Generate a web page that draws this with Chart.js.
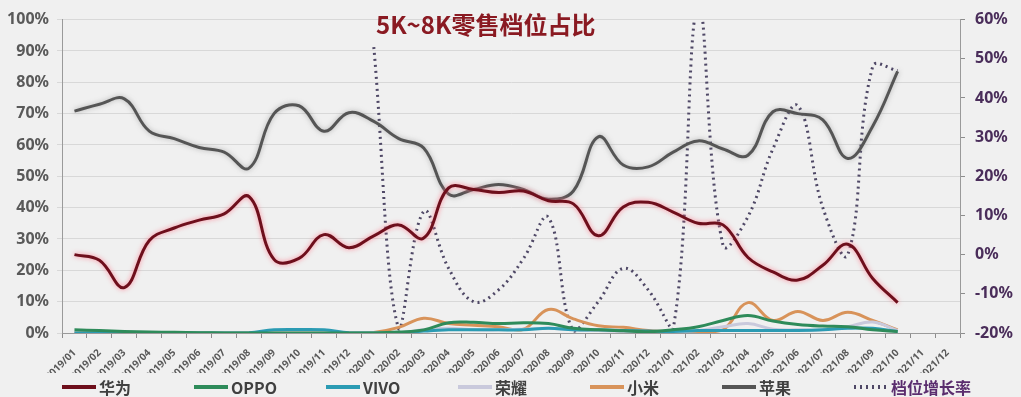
<!DOCTYPE html>
<html>
<head>
<meta charset="utf-8">
<script src="https://cdn.jsdelivr.net/npm/chart.js@4"></script>
<style>
  html,body{margin:0;padding:0;background:#f0f0f0;}
  #box{width:1021px;height:397px;position:relative;}
</style>
</head>
<body>
<div id="box"><canvas id="shareChart" width="1021" height="397"></canvas></div>
<script>
/* =========================
DATA
========================= */

const months = [
  "2019/01","2019/02","2019/03","2019/04","2019/05","2019/06",
  "2019/07","2019/08","2019/09","2019/10","2019/11","2019/12",
  "2020/01","2020/02","2020/03","2020/04","2020/05","2020/06",
  "2020/07","2020/08","2020/09","2020/10","2020/11","2020/12",
  "2021/01","2021/02","2021/03","2021/04","2021/05","2021/06",
  "2021/07","2021/08","2021/09","2021/10","2021/11","2021/12"
];

// 左轴 %
const huawei = [25,23.2,14.5,29.5,33.5,36,38,43.5,23.5,23.8,31.4,27.2,
  31,34.5,30.3,46.3,45.8,44.8,45.3,42.2,41.2,31,40.2,41.7,
  38.6,35,34.5,24.1,19.5,16.9,21.6,28.3,17.4,9.7,null,null];

const oppo = [1,0.8,0.5,0.3,0.2,0.1,0,0,0,0,0,0,
  0,0.3,1,3.3,3.4,3,3.3,3,1.5,1,0.7,0.4,
  1,2,4,5.6,3.8,2.7,2.2,2,1,0.5,null,null];

const vivo = [0,0,0,0,0,0,0,0.1,1,1.1,1,0.1,
  0,0,0.6,1,1,1,1,1.5,1,1,0.8,0.6,
  0.5,0.8,0.8,0.8,0.8,0.8,1,1.5,1.5,0.5,null,null];

const honor = [0,0,0,0,0,0,0,0,0,0,0,0,
  0,0,1,1.5,1,1,1.2,1.5,1,0.8,0.5,0.3,
  0.3,0.8,2,3,1.2,1,1,2,3.5,0.8,null,null];

const xiaomi = [0,0,0,0,0,0,0,0,0,0,0,0,
  0.2,1.8,4.7,3,2.5,2,1.2,7.5,4.5,2.3,1.8,0.8,
  0.4,0.4,1,9.7,4,6.9,4,6.6,4,1,null,null];

const apple = [70.8,73,74.7,64.4,62,59.2,57.7,52.6,70,72.5,64.4,70.3,
  67.5,62,59,44.3,45.8,47.4,45.8,42.7,45.3,62.6,53.6,53,
  57.7,61.3,58.7,56.7,70.6,70,68,55.7,66,83.5,null,null];

// 右轴 %
const growth = [null,null,null,null,null,null,null,null,null,null,null,null,
  53,-19,11,-3.5,-12,-9,-1,9.5,-19.5,-12,-3.5,-9,
  -19,64,2.4,9.7,27,38,12,0,48,47,null,null];

/* =========================
PLUGINS
========================= */

const bgPlugin = {
  id:"bg",
  beforeDraw(chart){
    const c = chart.ctx;
    c.save();
    c.fillStyle = "#f0f0f0";
    c.fillRect(0,0,chart.width,chart.height);
    c.restore();
  }
};

// 华为 / 苹果 线的光晕
const glowPlugin = {
  id:"glow",
  beforeDatasetDraw(chart,args){
    const c = chart.ctx;
    c.save();
    const ds = chart.data.datasets[args.index];
    if(ds.glow){
      c.shadowColor = ds.glow;
      c.shadowBlur = 5;
    }
  },
  afterDatasetDraw(chart){
    chart.ctx.restore();
  }
};

const titlePlugin = {
  id:"titleText",
  afterDraw(chart){
    const c = chart.ctx;
    c.save();
    c.font = "bold 24px 'Noto Sans CJK SC','Noto Sans',sans-serif";
    c.fillStyle = "#8a1a22";
    c.textAlign = "left";
    c.textBaseline = "alphabetic";
    c.fillText("5K~8K零售档位占比",376,34);
    c.restore();
  }
};

const legendPlugin = {
  id:"bottomLegend",
  afterDraw(chart){
    const c = chart.ctx;
    const y = 387;
    c.save();
    c.font = "bold 16px 'Noto Sans CJK SC','Noto Sans',sans-serif";
    c.textBaseline = "middle";
    chart.data.datasets.forEach((ds,i)=>{
      const x0 = 62 + i*132;
      c.beginPath();
      c.strokeStyle = ds.borderColor;
      c.lineWidth = 4;
      c.setLineDash(ds.borderDash || []);
      c.moveTo(x0,y);
      c.lineTo(x0+34,y);
      c.stroke();
      c.setLineDash([]);
      c.fillStyle = ds.legendColor || "#404040";
      c.fillText(ds.label,x0+37,y+1);
    });
    c.restore();
  }
};

/* =========================
CHART
========================= */

function lineSet(label,data,color,extra){
  return Object.assign({
    label:label,
    data:data,
    borderColor:color,
    backgroundColor:color,
    borderWidth:3,
    pointRadius:0,
    tension:0.4,
    yAxisID:"y",
    fill:false
  },extra || {});
}

const tickFont = {family:"'Noto Sans','DejaVu Sans',sans-serif",weight:"bold",size:16};

const shareChart = new Chart(
  document.getElementById("shareChart"),
  {
    type:"line",
    data:{
      labels:months,
      datasets:[
        lineSet("华为",huawei,"#6e0f1c",{glow:"rgba(255,110,130,0.8)"}),
        lineSet("OPPO",oppo,"#2e8b5a"),
        lineSet("VIVO",vivo,"#2b9bb3"),
        lineSet("荣耀",honor,"#c9c9dc"),
        lineSet("小米",xiaomi,"#d8935a"),
        lineSet("苹果",apple,"#555555",{glow:"rgba(120,120,120,0.5)"}),
        lineSet("档位增长率",growth,"#4f4866",{
          yAxisID:"y1",
          borderDash:[2,4],
          borderWidth:3,
          legendColor:"#5a2d6e"
        })
      ]
    },
    options:{
      responsive:false,
      animation:false,
      layout:{padding:{top:10,bottom:24,left:0,right:0}},
      plugins:{
        legend:{display:false},
        tooltip:{enabled:false}
      },
      scales:{
        x:{
          offset:true,
          grid:{offset:true,drawOnChartArea:false,tickLength:5,color:"#8c8c8c"},
          border:{color:"#9a9a9a"},
          ticks:{
            autoSkip:false,
            minRotation:45,
            maxRotation:45,
            padding:9,
            color:"#595959",
            font:{family:"'Noto Sans','DejaVu Sans',sans-serif",weight:"bold",size:10}
          },
          afterFit(scale){ scale.height = 40; }
        },
        y:{
          position:"left",
          min:0,
          max:100,
          ticks:{
            stepSize:10,
            padding:8,
            color:"#595959",
            font:tickFont,
            callback:v => v + "%"
          },
          grid:{color:"#d8d8d8",tickLength:5},
          border:{color:"#9a9a9a"},
          afterFit(scale){ scale.width = 62; }
        },
        y1:{
          position:"right",
          min:-20,
          max:60,
          ticks:{
            stepSize:10,
            padding:10,
            color:"#4a2d5a",
            font:tickFont,
            callback:v => v + "%"
          },
          grid:{drawOnChartArea:false,tickLength:5,color:"#8c8c8c"},
          border:{color:"#9a9a9a"},
          afterFit(scale){ scale.width = 61; }
        }
      }
    },
    plugins:[bgPlugin,glowPlugin,titlePlugin,legendPlugin]
  }
);
</script>
</body>
</html>
